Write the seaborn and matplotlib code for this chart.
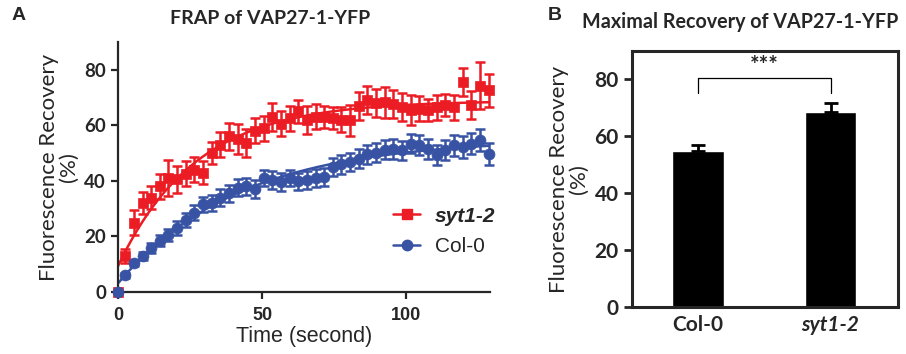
import numpy as np
import pandas as pd
import matplotlib
matplotlib.use('Agg')
import matplotlib.pyplot as plt
from matplotlib.lines import Line2D
import seaborn as sns

# FRAP time course (seconds)
time_s = [0, 2.5, 5.5, 8.5, 11.5, 14.5, 17.5, 20.5, 23.5, 26.5, 29.5, 32.5, 35.5,
          38.5, 41.5, 44.5, 47.5, 50.5, 53.5, 56.5, 59.5, 62.5, 65.5, 68.5, 71.5,
          74.5, 77.5, 80.5, 83.5, 86.5, 89.5, 92.5, 95.5, 98.5, 101.5, 104.5,
          107.5, 110.5, 113.5, 116.5, 119.5, 122.5, 125.5, 128.5]
syt_mean = [0, 13, 25, 32, 34, 38, 41, 40.5, 42.5, 44, 43, 50, 53,
            56, 55, 53.5, 58, 59, 63, 60.5, 62.5, 65, 62, 63, 63,
            62.5, 62, 61.8, 67, 69, 68, 68.3, 67.8, 66.5, 65.5, 66,
            65.4, 66.5, 67.2, 66.5, 75.5, 67.2, 74.3, 72.6]
syt_sem = [0, 2.5, 4.5, 4, 4, 4.5, 6.5, 5, 4.5, 4.5, 4, 4, 4.5,
           5, 5.5, 5, 4.5, 4.5, 5, 4.5, 4.5, 4, 5, 4.5, 4,
           4, 4.5, 5.5, 5, 5, 5, 5.5, 5, 5, 5.5, 4.5,
           4, 4.5, 4, 4.5, 5, 5, 8.5, 6]
col_mean = [0, 6, 10.5, 13, 16, 18.5, 20.5, 23, 26, 28.5, 31.5, 32, 34,
            35.5, 37.5, 38, 37, 41, 40.2, 39.5, 41, 39.8, 40.2, 41, 41.5,
            45, 46, 46.8, 48, 49.5, 50.2, 51.2, 51.5, 51, 53.4, 52.8,
            51.6, 49.2, 51, 52.8, 52.2, 53.4, 54.6, 49.8]
col_sem = [0, 1, 1.2, 1.5, 1.8, 2, 2.2, 2.5, 2.5, 2.7, 2.8, 3, 3,
           3, 3, 3, 3.2, 3, 3.2, 3.2, 3, 3, 3.2, 3.2, 3.2,
           3.4, 3.4, 3.4, 3.5, 3.5, 3.5, 3.5, 3.5, 3.5, 3.5, 3.6,
           3.6, 3.6, 3.6, 3.8, 3.8, 3.8, 4, 4]

# maximal recovery
genotypes = ['Col-0', 'syt1-2']
max_recovery = [54.8, 68.5]
max_recovery_err = [2.1, 3.1]

RED = '#ec1c24'
BLUE = '#3853a4'


def fit_curve(t, y):
    # one-phase association: y0 + span * (1 - exp(-k t)), grid search on k
    t = np.asarray(t, float)
    y = np.asarray(y, float)
    best = None
    for k in np.linspace(0.005, 0.25, 500):
        A = np.column_stack([np.ones_like(t), 1 - np.exp(-k * t)])
        coef = np.linalg.lstsq(A, y, rcond=None)[0]
        err = np.sum((A @ coef - y) ** 2)
        if best is None or err < best[0]:
            best = (err, k, coef)
    _, k, (y0, span) = best
    tt = np.linspace(0, t.max(), 300)
    return tt, y0 + span * (1 - np.exp(-k * tt))


sns.set_style('ticks')
plt.rcParams['font.family'] = ['Liberation Sans', 'DejaVu Sans']
plt.rcParams['axes.linewidth'] = 1.6

fig = plt.figure(figsize=(9.06, 3.54), dpi=100)

# ---- panel A ----
axA = fig.add_axes([118 / 906, 62 / 354, 372 / 906, 250 / 354])
df = pd.DataFrame({'time': time_s * 2,
                   'mean': syt_mean + col_mean,
                   'sem': syt_sem + col_sem,
                   'genotype': ['syt1-2'] * len(time_s) + ['Col-0'] * len(time_s)})

for g, col, mk, ms in [('syt1-2', RED, 's', 52), ('Col-0', BLUE, 'o', 62)]:
    d = df[df.genotype == g]
    tt, yy = fit_curve(d['time'], d['mean'])
    sns.lineplot(x=tt, y=yy, color=col, lw=1.8, ax=axA)
    axA.errorbar(d['time'], d['mean'], yerr=d['sem'], fmt='none', ecolor=col,
                 elinewidth=1.8, capsize=3.6, capthick=1.8, clip_on=False)
    sns.scatterplot(data=d, x='time', y='mean', color=col, marker=mk, s=ms,
                    edgecolor=col, linewidth=0.5, ax=axA, zorder=3, clip_on=False)

axA.set_xlim(0, 129)
axA.set_ylim(0, 90)
axA.set_xticks([0, 50, 100])
axA.set_yticks([0, 20, 40, 60, 80])
sns.despine(ax=axA)
axA.tick_params(length=5, width=1.6, direction='out')
axA.tick_params(axis='x', pad=6)
for lab in axA.get_xticklabels():
    lab.set_fontweight('bold')
    lab.set_fontsize(13)
for lab in axA.get_yticklabels():
    lab.set_fontweight('bold')
    lab.set_fontsize(13.5)
    lab.set_family('Lato')
axA.set_xlabel('Time (second)', fontsize=15.5, labelpad=1)
axA.set_ylabel('Fluorescence Recovery\n(%)', fontsize=16, family='Lato',
               labelpad=4, linespacing=1.0)

handles = [Line2D([], [], color=RED, marker='s', markersize=7, lw=1.8),
           Line2D([], [], color=BLUE, marker='o', markersize=7.5, lw=1.8)]
leg = axA.legend(handles, ['syt1-2', 'Col-0'], loc='center left',
                 bbox_to_anchor=(0.712, 0.242), frameon=False, fontsize=15,
                 borderpad=0, handlelength=1.3, handletextpad=0.7,
                 labelspacing=0.55)
leg.get_texts()[0].set_fontstyle('italic')
leg.get_texts()[0].set_fontweight('bold')

# ---- panel B ----
axB = fig.add_axes([632 / 906, 47 / 354, 266 / 906, 256 / 354])
sns.barplot(x=genotypes, y=max_recovery, color='black', width=0.39,
            saturation=1, ax=axB)
axB.errorbar(range(len(genotypes)), max_recovery,
             yerr=[[0] * len(genotypes), max_recovery_err], fmt='none',
             ecolor='black', elinewidth=2, capsize=5, capthick=2)
axB.set_xlim(-0.5, 1.51)
axB.set_ylim(0, 90)
axB.set_yticks([0, 20, 40, 60, 80])
for s in axB.spines.values():
    s.set_linewidth(2.2)
axB.tick_params(axis='y', length=6, width=2, direction='out')
axB.tick_params(axis='x', length=0, pad=6)
for lab in axB.get_yticklabels() + axB.get_xticklabels():
    lab.set_fontweight('bold')
    lab.set_fontsize(15)
    lab.set_family('Lato')
axB.get_xticklabels()[1].set_fontstyle('italic')
axB.set_ylabel('Fluorescence Recovery\n(%)', fontsize=16, family='Lato',
               labelpad=4, linespacing=1.0)

# significance bracket
top = max(max_recovery) + max(max_recovery_err) + 9
axB.plot([0, 0, 1, 1], [top - 5.4, top, top, top - 5.4], color='black', lw=0.9)
axB.text(0.5, top + 0.5, '***', ha='center', va='bottom', fontsize=16,
         fontweight='bold', family='Lato')

fig.text(270 / 906, 1 - 18 / 354, 'FRAP of VAP27-1-YFP', ha='center', va='center',
         fontsize=14, fontweight='bold', family='Lato')
fig.text(0.5 * (575 + 905) / 906, 1 - 22 / 354, 'Maximal Recovery of VAP27-1-YFP',
         ha='center', va='center', fontsize=14.2, fontweight='bold', family='Lato')
fig.text(12 / 906, 1 - 16 / 354, 'A', fontsize=14, fontweight='bold', va='center')
fig.text(548 / 906, 1 - 16 / 354, 'B', fontsize=14, fontweight='bold', va='center')

fig.savefig('out.png', dpi=100)
